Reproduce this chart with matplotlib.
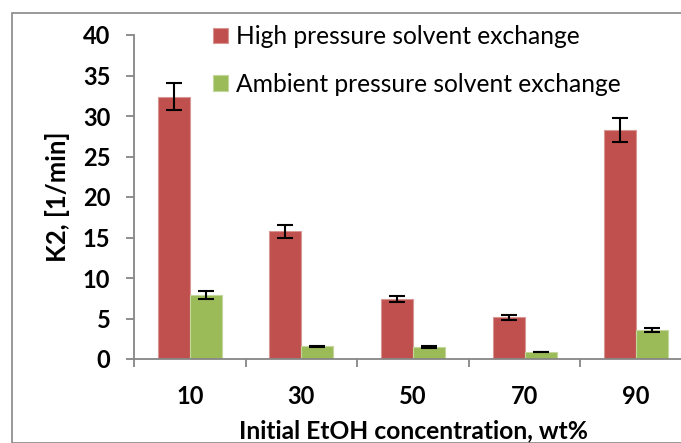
import matplotlib.pyplot as plt
from matplotlib.patches import Rectangle
import numpy as np

# data
categories = ['10', '30', '50', '70', '90']
high_pressure = [32.4, 15.8, 7.4, 5.15, 28.3]
high_pressure_err = [1.65, 0.8, 0.4, 0.3, 1.45]
ambient_pressure = [7.9, 1.55, 1.45, 0.87, 3.6]
ambient_pressure_err = [0.45, 0.1, 0.1, 0.05, 0.25]

plt.rcParams['font.family'] = ['Lato', 'DejaVu Sans']

W, H = 681, 443
fig = plt.figure(figsize=(W / 100, H / 100), dpi=100)

# grey frame of the chart area (cropped on the right and bottom)
fig.patches.append(Rectangle((11.5 / W, 0), 1.2, 1 - 12.5 / H, transform=fig.transFigure,
                             fill=False, edgecolor='#888888', linewidth=1.2))

# axes box: x axis from px 134 to 692 (goes past the right edge), y from 359 to 35
ax = fig.add_axes([134 / W, 1 - 359 / H, (692 - 134) / W, (359 - 35) / H])

x = np.arange(len(categories))
bw = 0.287
err_kw = dict(ecolor='black', elinewidth=1.5, capsize=6, capthick=1.5)
ax.bar(x - bw / 2, high_pressure, bw, yerr=high_pressure_err, color='#C0504D',
       edgecolor='#D99694', linewidth=0.8, label='High pressure solvent exchange', error_kw=err_kw)
ax.bar(x + bw / 2, ambient_pressure, bw, yerr=ambient_pressure_err, color='#9BBB59',
       edgecolor='#C3D69B', linewidth=0.8, label='Ambient pressure solvent exchange', error_kw=err_kw)

ax.set_xlim(-0.5, len(categories) - 0.5)
ax.set_ylim(0, 40)
ax.set_yticks(range(0, 41, 5))
ax.set_xticks(x)
ax.set_xticklabels(categories)
ax.set_xticks(np.arange(-0.5, len(categories), 1), minor=True)

for s in ['top', 'right']:
    ax.spines[s].set_visible(False)
for s in ['left', 'bottom']:
    ax.spines[s].set_color('#868686')
    ax.spines[s].set_linewidth(1.3)

ax.tick_params(axis='y', direction='out', length=6, width=1.3, color='#868686', pad=11,
               labelsize=17)
ax.tick_params(axis='x', which='major', length=0, pad=19, labelsize=17)
ax.tick_params(axis='x', which='minor', direction='out', length=6, width=1.3, color='#868686')
for lab in ax.get_xticklabels() + ax.get_yticklabels():
    lab.set_fontweight('bold')

ax.set_ylabel('K2, [1/min]', fontsize=18.5, fontweight='bold', labelpad=9)
fig.text(413 / W, 1 - 431 / H, 'Initial EtOH concentration, wt%', ha='center', va='center',
         fontsize=17.7, fontweight='bold')

fig.legend(loc='upper left', bbox_to_anchor=(191 / W, 1 - 3 / H), frameon=False,
           fontsize=17.7, handlelength=0.62, handleheight=0.62, handletextpad=0.3,
           labelspacing=1.0)

fig.savefig('out.png', dpi=100)
